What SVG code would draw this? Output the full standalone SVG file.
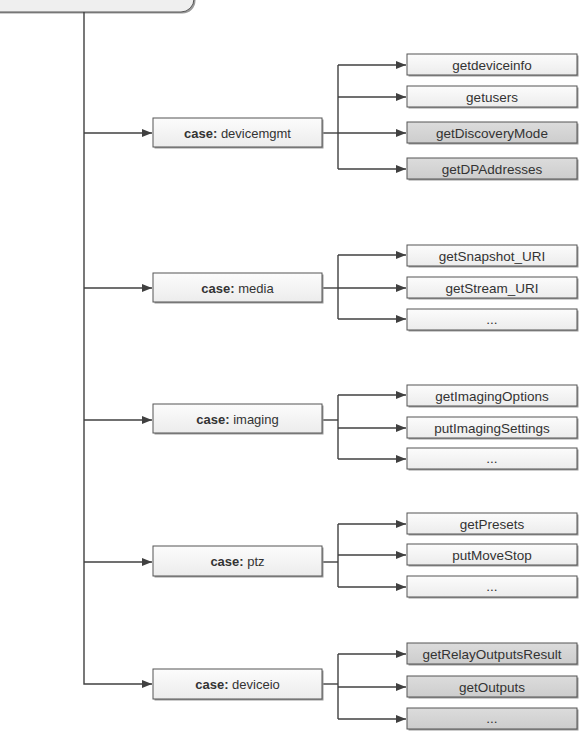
<svg xmlns="http://www.w3.org/2000/svg" width="586" height="733" viewBox="0 0 586 733">
<style>
  .conn{fill:none;stroke:#404040;stroke-width:1.4}
  .box{stroke:#555;stroke-width:1}
  .shadow{fill:#9a9a9a}
  .w{fill:url(#gw)}
  .g{fill:url(#gg)}
  text{font-family:"Liberation Sans",Arial,sans-serif;font-size:13.5px;fill:#333;text-anchor:middle}
  .c{font-size:13px}
  .b{font-weight:bold}
</style>
<defs>
  <linearGradient id="gw" x1="0" y1="0" x2="0" y2="1">
    <stop offset="0" stop-color="#fcfcfc"/>
    <stop offset="1" stop-color="#ececec"/>
  </linearGradient>
  <linearGradient id="gg" x1="0" y1="0" x2="0" y2="1">
    <stop offset="0" stop-color="#dcdcdc"/>
    <stop offset="1" stop-color="#cdcdcd"/>
  </linearGradient>
  <marker id="arr" markerWidth="10" markerHeight="8" refX="10" refY="4" orient="auto" markerUnits="userSpaceOnUse">
    <path d="M0,0 L10,4 L0,8 Z" fill="#404040"/>
  </marker>
</defs>

<g id="root">
  <rect x="-30" y="-40" width="224" height="52" rx="13" ry="13" fill="#9a9a9a" transform="translate(1.5,1.5)"/>
  <rect x="-30" y="-40" width="224" height="52" rx="13" ry="13" fill="#efefef" stroke="#555" stroke-width="1"/>
</g>

<g id="connectors">
  <path class="conn" d="M84,12 V684 H152" marker-end="url(#arr)"/>
  <path class="conn" d="M84,133 H152" marker-end="url(#arr)"/>
  <path class="conn" d="M84,288 H152" marker-end="url(#arr)"/>
  <path class="conn" d="M84,420 H152" marker-end="url(#arr)"/>
  <path class="conn" d="M84,562 H152" marker-end="url(#arr)"/>

  <path class="conn" d="M322,133 H338"/>
  <path class="conn" d="M338,65 V169"/>
  <path class="conn" d="M338,65 H406" marker-end="url(#arr)"/>
  <path class="conn" d="M338,97 H406" marker-end="url(#arr)"/>
  <path class="conn" d="M338,133 H406" marker-end="url(#arr)"/>
  <path class="conn" d="M338,169 H406" marker-end="url(#arr)"/>

  <path class="conn" d="M322,288 H338"/>
  <path class="conn" d="M338,255 V319"/>
  <path class="conn" d="M338,255 H406" marker-end="url(#arr)"/>
  <path class="conn" d="M338,288 H406" marker-end="url(#arr)"/>
  <path class="conn" d="M338,319 H406" marker-end="url(#arr)"/>

  <path class="conn" d="M322,420 H338"/>
  <path class="conn" d="M338,395 V459"/>
  <path class="conn" d="M338,395 H406" marker-end="url(#arr)"/>
  <path class="conn" d="M338,428 H406" marker-end="url(#arr)"/>
  <path class="conn" d="M338,459 H406" marker-end="url(#arr)"/>

  <path class="conn" d="M322,562 H338"/>
  <path class="conn" d="M338,524 V587"/>
  <path class="conn" d="M338,524 H406" marker-end="url(#arr)"/>
  <path class="conn" d="M338,555 H406" marker-end="url(#arr)"/>
  <path class="conn" d="M338,587 H406" marker-end="url(#arr)"/>

  <path class="conn" d="M322,684 H338"/>
  <path class="conn" d="M338,654 V719"/>
  <path class="conn" d="M338,654 H406" marker-end="url(#arr)"/>
  <path class="conn" d="M338,687 H406" marker-end="url(#arr)"/>
  <path class="conn" d="M338,719 H406" marker-end="url(#arr)"/>
</g>

<g id="case-devicemgmt">
  <rect class="shadow" x="154.5" y="119.5" width="169" height="29"/>
  <rect class="box w" x="153" y="118" width="169" height="29"/>
  <text class="c" x="237.5" y="137.5"><tspan class="b">case:</tspan> devicemgmt</text>
</g>
<g id="case-media">
  <rect class="shadow" x="154.5" y="274.5" width="169" height="29"/>
  <rect class="box w" x="153" y="273" width="169" height="29"/>
  <text class="c" x="237.5" y="292.5"><tspan class="b">case:</tspan> media</text>
</g>
<g id="case-imaging">
  <rect class="shadow" x="154.5" y="405.5" width="169" height="29"/>
  <rect class="box w" x="153" y="404" width="169" height="29"/>
  <text class="c" x="237.5" y="423.5"><tspan class="b">case:</tspan> imaging</text>
</g>
<g id="case-ptz">
  <rect class="shadow" x="154.5" y="547.5" width="169" height="30"/>
  <rect class="box w" x="153" y="546" width="169" height="30"/>
  <text class="c" x="237.5" y="565.5"><tspan class="b">case:</tspan> ptz</text>
</g>
<g id="case-deviceio">
  <rect class="shadow" x="154.5" y="670.5" width="169" height="30"/>
  <rect class="box w" x="153" y="669" width="169" height="30"/>
  <text class="c" x="237.5" y="688.5"><tspan class="b">case:</tspan> deviceio</text>
</g>

<g id="getdeviceinfo">
  <rect class="shadow" x="408.5" y="55.5" width="170" height="21"/>
  <rect class="box w" x="407" y="54" width="170" height="21"/>
  <text x="492" y="69.5">getdeviceinfo</text>
</g>
<g id="getusers">
  <rect class="shadow" x="408.5" y="87.5" width="170" height="21"/>
  <rect class="box w" x="407" y="86" width="170" height="21"/>
  <text x="492" y="101.5">getusers</text>
</g>
<g id="getDiscoveryMode">
  <rect class="shadow" x="408.5" y="123.5" width="170" height="21"/>
  <rect class="box g" x="407" y="122" width="170" height="21"/>
  <text x="492" y="137.5">getDiscoveryMode</text>
</g>
<g id="getDPAddresses">
  <rect class="shadow" x="408.5" y="159.5" width="170" height="21"/>
  <rect class="box g" x="407" y="158" width="170" height="21"/>
  <text x="492" y="173.5">getDPAddresses</text>
</g>

<g id="getSnapshot_URI">
  <rect class="shadow" x="408.5" y="246.5" width="170" height="21"/>
  <rect class="box w" x="407" y="245" width="170" height="21"/>
  <text x="492" y="260.5">getSnapshot_URI</text>
</g>
<g id="getStream_URI">
  <rect class="shadow" x="408.5" y="278.5" width="170" height="21"/>
  <rect class="box w" x="407" y="277" width="170" height="21"/>
  <text x="492" y="292.5">getStream_URI</text>
</g>
<g id="media-more">
  <rect class="shadow" x="408.5" y="310.5" width="170" height="21"/>
  <rect class="box w" x="407" y="309" width="170" height="21"/>
  <text x="492" y="323.5">...</text>
</g>

<g id="getImagingOptions">
  <rect class="shadow" x="408.5" y="386.5" width="170" height="21"/>
  <rect class="box w" x="407" y="385" width="170" height="21"/>
  <text x="492" y="400.5">getImagingOptions</text>
</g>
<g id="putImagingSettings">
  <rect class="shadow" x="408.5" y="418.5" width="170" height="21"/>
  <rect class="box w" x="407" y="417" width="170" height="21"/>
  <text x="492" y="432.5">putImagingSettings</text>
</g>
<g id="imaging-more">
  <rect class="shadow" x="408.5" y="449.5" width="170" height="21"/>
  <rect class="box w" x="407" y="448" width="170" height="21"/>
  <text x="492" y="462.5">...</text>
</g>

<g id="getPresets">
  <rect class="shadow" x="408.5" y="514.5" width="170" height="21"/>
  <rect class="box w" x="407" y="513" width="170" height="21"/>
  <text x="492" y="528.5">getPresets</text>
</g>
<g id="putMoveStop">
  <rect class="shadow" x="408.5" y="545.5" width="170" height="21"/>
  <rect class="box w" x="407" y="544" width="170" height="21"/>
  <text x="492" y="559.5">putMoveStop</text>
</g>
<g id="ptz-more">
  <rect class="shadow" x="408.5" y="577.5" width="170" height="21"/>
  <rect class="box w" x="407" y="576" width="170" height="21"/>
  <text x="492" y="590.5">...</text>
</g>

<g id="getRelayOutputsResult">
  <rect class="shadow" x="408.5" y="644.5" width="170" height="21"/>
  <rect class="box g" x="407" y="643" width="170" height="21"/>
  <text x="492" y="658.5">getRelayOutputsResult</text>
</g>
<g id="getOutputs">
  <rect class="shadow" x="408.5" y="677.5" width="170" height="21"/>
  <rect class="box g" x="407" y="676" width="170" height="21"/>
  <text x="492" y="691.5">getOutputs</text>
</g>
<g id="deviceio-more">
  <rect class="shadow" x="408.5" y="709.5" width="170" height="21"/>
  <rect class="box g" x="407" y="708" width="170" height="21"/>
  <text x="492" y="722.5">...</text>
</g>
</svg>
